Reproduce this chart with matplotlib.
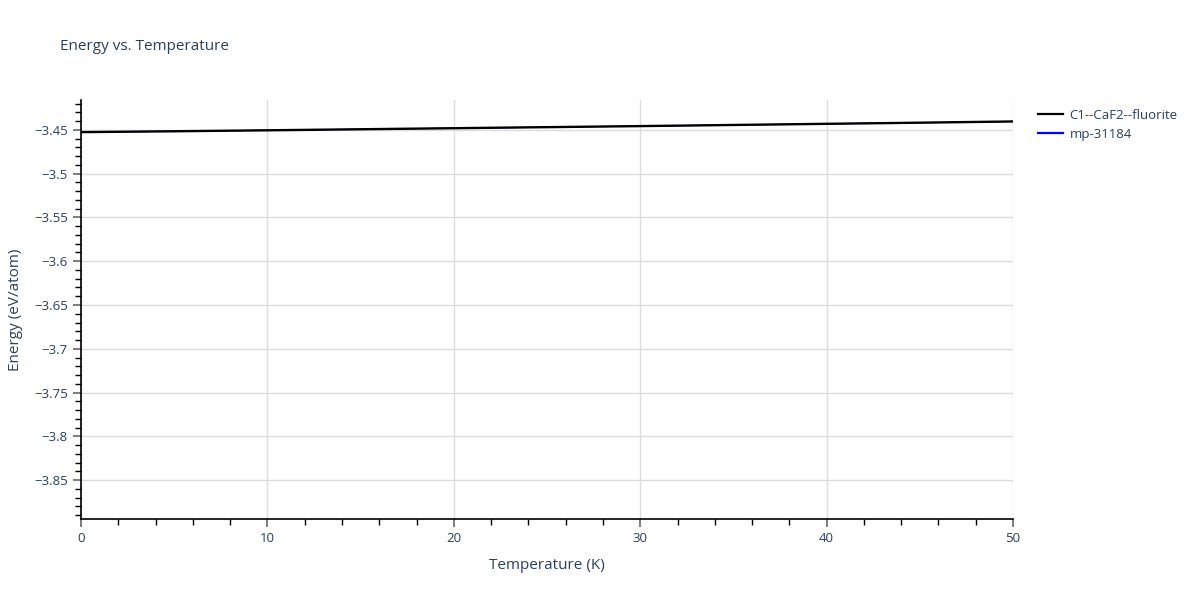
import matplotlib
matplotlib.use("Agg")
import matplotlib.pyplot as plt
from matplotlib.ticker import MultipleLocator, FuncFormatter

# data
temps = [0, 5, 10, 15, 20, 25, 30, 35, 40, 45, 50]
energy_fluorite = [-3.4525, -3.4515, -3.4504, -3.4492, -3.4480, -3.4468,
                   -3.4456, -3.4443, -3.4430, -3.4417, -3.4403]
energy_mp = energy_fluorite  # hidden under the black line in the reference

text_col = "#2a3f5f"
plt.rcParams['font.family'] = ['Open Sans', 'DejaVu Sans']

fig = plt.figure(figsize=(12, 6), dpi=100)
ax = fig.add_axes([0.0675, 0.135, 0.7767, 0.6983])

ax.plot(temps, energy_mp, color="blue", lw=0.8, label="mp-31184", zorder=2)
ax.plot(temps, energy_fluorite, color="black", lw=1.7, label="C1--CaF2--fluorite", zorder=3)

ax.set_xlim(0, 50)
ax.set_ylim(-3.8945, -3.4158)

ax.xaxis.set_major_locator(MultipleLocator(10))
ax.xaxis.set_minor_locator(MultipleLocator(2))
ax.yaxis.set_major_locator(MultipleLocator(0.05))
ax.yaxis.set_minor_locator(MultipleLocator(0.01))

def fmt(v, pos):
    s = f"{v:.2f}".rstrip("0").rstrip(".")
    return s.replace("-", "\u2212")
ax.yaxis.set_major_formatter(FuncFormatter(fmt))

ax.grid(True, which="major", color="#dcdcdc", lw=1)
ax.set_axisbelow(True)
for side in ["top", "right"]:
    ax.spines[side].set_visible(False)
for side in ["left", "bottom"]:
    ax.spines[side].set_color("black")
    ax.spines[side].set_linewidth(1.2)

ax.tick_params(which="major", length=6, width=1.2, color="#666666",
               labelcolor=text_col, labelsize=9.5)
ax.tick_params(which="minor", length=4, width=1, color="black")

ax.set_xlabel("Temperature (K)", color=text_col, fontsize=11, labelpad=9)
ax.set_ylabel("Energy (eV/atom)", color=text_col, fontsize=11, labelpad=8)
fig.text(0.05, 0.922, "Energy vs. Temperature", color=text_col, fontsize=11,
         ha="left", va="center")

handles, labels = ax.get_legend_handles_labels()
leg = fig.legend(handles[::-1], labels[::-1], loc="upper left",
                 bbox_to_anchor=(0.855, 0.838), frameon=False,
                 fontsize=9.5, handlelength=1.9, handletextpad=0.5,
                 labelspacing=0.45)
for t in leg.get_texts():
    t.set_color(text_col)
for h in leg.legend_handles:
    h.set_linewidth(1.6)

fig.savefig("out.png", dpi=100)
